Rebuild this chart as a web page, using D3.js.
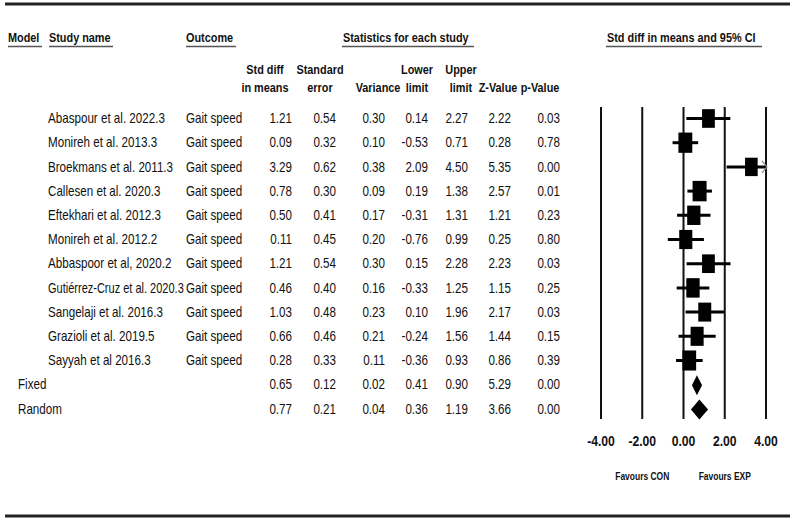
<!DOCTYPE html>
<html>
<head>
<meta charset="utf-8">
<script src="https://cdn.jsdelivr.net/npm/d3@7"></script>
<style>
    body { margin: 0; background: #fff; }
    svg { display: block; font-family: "Liberation Sans", Arial, sans-serif; }
</style>
</head>
<body>
<div id="chart"></div>
<script>
'use strict';

// Study rows
const studyNames = [
    'Abaspour et al. 2022.3',
    'Monireh et al. 2013.3',
    'Broekmans et al. 2011.3',
    'Callesen et al. 2020.3',
    'Eftekhari et al. 2012.3',
    'Monireh et al. 2012.2',
    'Abbaspoor et al, 2020.2',
    'Gutiérrez-Cruz et al. 2020.3',
    'Sangelaji et al. 2016.3',
    'Grazioli et al. 2019.5',
    'Sayyah et al 2016.3'
];
const outcomes = studyNames.map(() => 'Gait speed');
const stdDiff = [1.21, 0.09, 3.29, 0.78, 0.50, 0.11, 1.21, 0.46, 1.03, 0.66, 0.28];
const stdErr = [0.54, 0.32, 0.62, 0.30, 0.41, 0.45, 0.54, 0.40, 0.48, 0.46, 0.33];
const variance = [0.30, 0.10, 0.38, 0.09, 0.17, 0.20, 0.30, 0.16, 0.23, 0.21, 0.11];
const lowerLimit = [0.14, -0.53, 2.09, 0.19, -0.31, -0.76, 0.15, -0.33, 0.10, -0.24, -0.36];
const upperLimit = [2.27, 0.71, 4.50, 1.38, 1.31, 0.99, 2.28, 1.25, 1.96, 1.56, 0.93];
const zValue = [2.22, 0.28, 5.35, 2.57, 1.21, 0.25, 2.23, 1.15, 2.17, 1.44, 0.86];
const pValue = [0.03, 0.78, 0.00, 0.01, 0.23, 0.80, 0.03, 0.25, 0.03, 0.15, 0.39];

// Pooled rows
const modelNames = ['Fixed', 'Random'];
const modelStdDiff = [0.65, 0.77];
const modelStdErr = [0.12, 0.21];
const modelVariance = [0.02, 0.04];
const modelLower = [0.41, 0.36];
const modelUpper = [0.90, 1.19];
const modelZ = [5.29, 3.66];
const modelP = [0.00, 0.00];

const axisTicks = [-4, -2, 0, 2, 4];

const width = 794;
const height = 521;
const firstRowY = 118.5;
const rowStep = 24.2;
const narrow = 0.83;     // horizontal squeeze of regular text
const narrowBold = 0.8;  // same for bold headers

function main() {
    const svg = d3.select('#chart')
        .append('svg')
        .attr('width', width)
        .attr('height', height);

    // Put text squeezed horizontally like the source
    function addText(x, y, str, opts) {
        opts = opts || {};
        let sx = opts.sx || (opts.bold ? narrowBold : narrow);
        const t = svg.append('text')
            .attr('text-anchor', opts.anchor || 'start')
            .attr('font-size', opts.size || 14)
            .attr('font-weight', opts.bold ? 'bold' : 'normal')
            .attr('fill', '#111')
            .text(str);
        // keep long labels inside their column
        if (opts.maxWidth) {
            const len = t.node().getComputedTextLength();
            if (len * sx > opts.maxWidth) sx = opts.maxWidth / len;
        }
        t.attr('transform', `translate(${x},${y}) scale(${sx},1)`);
        return t;
    }

    // Frame lines
    [4, 516].forEach(y => {
        svg.append('line')
            .attr('x1', 5).attr('x2', 790)
            .attr('y1', y).attr('y2', y)
            .attr('stroke', '#222')
            .attr('stroke-width', 3);
    });

    // Top header with underlines
    const headers = [
        { label: 'Model', x: 8, x1: 8, x2: 42 },
        { label: 'Study name', x: 49, x1: 49, x2: 113 },
        { label: 'Outcome', x: 186, x1: 186, x2: 236 },
        { label: 'Statistics for each study', x: 343, x1: 342, x2: 474 },
        { label: 'Std diff in means and 95% CI', x: 607, x1: 606, x2: 762 }
    ];
    headers.forEach(h => {
        addText(h.x, 42, h.label, { bold: true, size: 13.6 });
        svg.append('line')
            .attr('x1', h.x1).attr('x2', h.x2)
            .attr('y1', 46.5).attr('y2', 46.5)
            .attr('stroke', '#555')
            .attr('stroke-width', 1.5);
    });

    // Columns of the statistics table (right edges of values)
    const columns = [
        { top: 'Std diff', bottom: 'in means', hx: 265, right: 292, vals: stdDiff, pooled: modelStdDiff },
        { top: 'Standard', bottom: 'error', hx: 320, right: 336, vals: stdErr, pooled: modelStdErr },
        { top: '', bottom: 'Variance', hx: 378, right: 385, vals: variance, pooled: modelVariance },
        { top: 'Lower', bottom: 'limit', hx: 417, right: 428, vals: lowerLimit, pooled: modelLower },
        { top: 'Upper', bottom: 'limit', hx: 461, right: 468, vals: upperLimit, pooled: modelUpper },
        { top: '', bottom: 'Z-Value', hx: 498, right: 511, vals: zValue, pooled: modelZ },
        { top: '', bottom: 'p-Value', hx: 540, right: 560, vals: pValue, pooled: modelP }
    ];
    columns.forEach(c => {
        if (c.top) addText(c.hx, 74, c.top, { bold: true, size: 13.6, anchor: 'middle' });
        addText(c.hx, 92, c.bottom, { bold: true, size: 13.6, anchor: 'middle' });
    });

    const rowY = i => firstRowY + rowStep * i;

    // Study rows
    studyNames.forEach((name, i) => {
        const y = rowY(i) + 4.7;
        addText(48, y, name, { maxWidth: 136 });
        addText(186, y, outcomes[i]);
        columns.forEach(c => {
            addText(c.right, y, c.vals[i].toFixed(2), { anchor: 'end' });
        });
    });

    // Pooled rows
    modelNames.forEach((name, j) => {
        const y = rowY(studyNames.length + j) + 4.7;
        addText(18, y, name);
        columns.forEach(c => {
            addText(c.right, y, c.pooled[j].toFixed(2), { anchor: 'end' });
        });
    });

    // Forest plot
    const x = d3.scaleLinear()
        .domain([-4, 4])
        .range([601, 766]);
    const plotTop = 107;
    const plotBottom = 419;

    svg.append('g')
        .selectAll('line')
        .data(axisTicks)
        .enter()
        .append('line')
        .attr('x1', d => x(d)).attr('x2', d => x(d))
        .attr('y1', plotTop).attr('y2', plotBottom)
        .attr('stroke', '#111')
        .attr('stroke-width', 2);

    axisTicks.forEach(t => {
        addText(x(t), 446, t.toFixed(2), { bold: true, size: 14.5, sx: 0.84, anchor: 'middle' });
    });

    addText(x(-2), 480, 'Favours CON', { bold: true, size: 11, sx: 0.77, anchor: 'middle' });
    addText(x(2), 480, 'Favours EXP', { bold: true, size: 11, sx: 0.77, anchor: 'middle' });

    const [xMin, xMax] = x.domain();
    const clamp = v => Math.max(xMin, Math.min(xMax, v));

    // Box size from study weight (inverse variance), narrow range as in source
    const weights = variance.map(v => 1 / v);
    const boxW = d3.scaleSqrt()
        .domain(d3.extent(weights))
        .range([12.6, 14]);

    const studyG = svg.append('g');
    studyNames.forEach((name, i) => {
        const cy = rowY(i);
        studyG.append('line')
            .attr('x1', x(clamp(lowerLimit[i])))
            .attr('x2', x(clamp(upperLimit[i])))
            .attr('y1', cy).attr('y2', cy)
            .attr('stroke', '#000')
            .attr('stroke-width', 3);
        const w = boxW(weights[i]);
        const h = w * 1.46;
        studyG.append('rect')
            .attr('x', x(stdDiff[i]) - w / 2)
            .attr('y', cy - h / 2)
            .attr('width', w)
            .attr('height', h)
            .attr('fill', '#000');
        // Arrow when CI runs past the axis
        if (upperLimit[i] > xMax) {
            const ax = x(xMax);
            studyG.append('path')
                .attr('d', `M${ax - 4},${cy - 6} L${ax + 1},${cy} L${ax - 4},${cy + 6}`)
                .attr('fill', 'none')
                .attr('stroke', '#888')
                .attr('stroke-width', 1.2);
        }
    });

    // Summary diamonds
    modelNames.forEach((name, j) => {
        const cy = rowY(studyNames.length + j) + 0.6;
        const hh = 10;
        svg.append('path')
            .attr('d', `M${x(modelLower[j])},${cy}`
                + ` L${x(modelStdDiff[j])},${cy - hh}`
                + ` L${x(modelUpper[j])},${cy}`
                + ` L${x(modelStdDiff[j])},${cy + hh} Z`)
            .attr('fill', '#000');
    });
}
main();
</script>
</body>
</html>
